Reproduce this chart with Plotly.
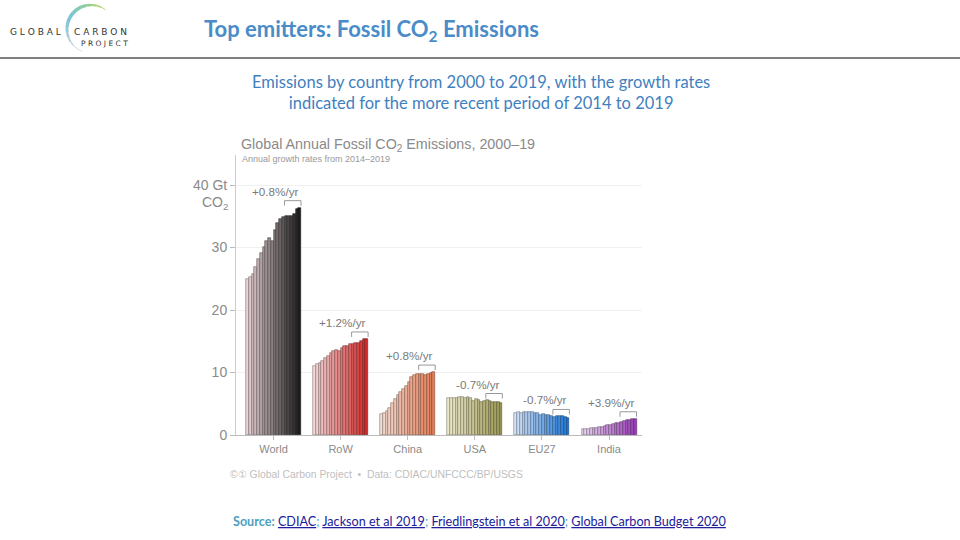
import numpy as np
import plotly.graph_objects as go

# ---------------- data ----------------
years = list(range(2000, 2020))
countries = ["World", "RoW", "China", "USA", "EU27", "India"]
world = [25.0, 25.3, 25.7, 26.9, 28.1, 29.1, 30.1, 31.0, 31.5, 31.1, 32.8, 34.0, 34.5, 34.9, 35.0, 35.0, 35.0, 35.3, 36.1, 36.4]
row = [11.1, 11.3, 11.5, 11.8, 12.3, 12.7, 13.1, 13.4, 13.6, 13.4, 13.9, 14.2, 14.3, 14.5, 14.6, 14.7, 14.8, 15.0, 15.3, 15.4]
china = [3.4, 3.5, 3.8, 4.4, 5.1, 5.8, 6.4, 6.9, 7.3, 7.8, 8.5, 9.3, 9.6, 9.8, 9.8, 9.7, 9.6, 9.7, 9.9, 10.1]
usa = [6.0, 5.9, 5.95, 6.0, 6.1, 6.1, 6.0, 6.1, 5.9, 5.5, 5.7, 5.55, 5.35, 5.5, 5.55, 5.4, 5.3, 5.25, 5.35, 5.2]
eu27 = [3.6, 3.65, 3.6, 3.7, 3.7, 3.65, 3.65, 3.6, 3.5, 3.2, 3.3, 3.2, 3.15, 3.05, 2.95, 3.0, 3.0, 3.0, 2.95, 2.8]
india = [0.98, 1.0, 1.03, 1.07, 1.12, 1.18, 1.25, 1.35, 1.46, 1.6, 1.68, 1.77, 1.9, 1.97, 2.15, 2.2, 2.33, 2.42, 2.6, 2.63]
growth_labels = ["+0.8%/yr", "+1.2%/yr", "+0.8%/yr", "-0.7%/yr", "-0.7%/yr", "+3.9%/yr"]
y_tickvals = [0, 10, 20, 30, 40]
y_ticktext = ["0", "10", "20", "30", "40 Gt"]
series = [world, row, china, usa, eu27, india]

# ---------------- styles ----------------
grad = [
    ((233, 211, 214), (30, 30, 30)),
    ((243, 217, 217), (212, 42, 42)),
    ((243, 221, 211), (229, 126, 87)),
    ((236, 233, 203), (158, 154, 85)),
    ((211, 227, 246), (31, 120, 216)),
    ((234, 215, 239), (154, 63, 184)),
]
W, H = 960, 540
VS = 0.985          # observed vertical compression of the rendered page
VOFF = 0.0
GROUP_PITCH = 24.4
period_start = years.index(2014)


def px_x(p):
    return p / W


def px_y(p):
    return 1 - ((p - VOFF) / VS) / H


def rgb(c):
    return "rgb(%d,%d,%d)" % tuple(int(round(v)) for v in c)


fig = go.Figure()
n = len(years)
for g, (name, vals) in enumerate(zip(countries, series)):
    c0, c1 = np.array(grad[g][0], float), np.array(grad[g][1], float)
    t = np.linspace(0, 1, n)
    cols = [c0 + (c1 - c0) * ti for ti in t]
    fill = [rgb(c) for c in cols]
    line = [rgb(c * 0.55) for c in cols]
    xs = [g * GROUP_PITCH + i for i in range(n)]
    fig.add_trace(go.Bar(x=xs, y=vals, width=1, name=name,
                         marker=dict(color=fill, line=dict(color=line, width=0.6)),
                         showlegend=False, hoverinfo="y"))
    # bracket over 2014-2019
    top = max(vals[period_start:]) + 1.1
    x0 = g * GROUP_PITCH + period_start - 0.5
    x1 = g * GROUP_PITCH + n - 1 + 0.5
    fig.add_shape(type="path", xref="x", yref="y",
                  path=f"M {x0} {top-0.8} L {x0} {top} L {x1} {top} L {x1} {top-0.8}",
                  line=dict(color="#999", width=1))
    fig.add_annotation(x=x1, y=top, xref="x", yref="y", text=growth_labels[g],
                       showarrow=False, xanchor="right", yanchor="bottom", yshift=1,
                       font=dict(family="Liberation Sans", size=11.7, color="#7a7a7a"))

# axes geometry (pixels of the reference)
ax_left, ax_right = 236, 642
ax_bottom, ax_top = 435, 155
px_per_gt = 6.25
bar_px = 2.75
xmin = -0.5 - (246 - ax_left) / bar_px
xmax = xmin + (ax_right - ax_left) / bar_px

fig.update_layout(
    width=W, height=H, autosize=False, margin=dict(l=0, r=0, t=0, b=0, pad=0),
    paper_bgcolor="white", plot_bgcolor="white", bargap=0,
    xaxis=dict(domain=[px_x(ax_left), px_x(ax_right)], range=[xmin, xmax],
               tickvals=[g * GROUP_PITCH + (n - 1) / 2 for g in range(len(countries))],
               ticktext=countries, ticks="outside", ticklen=4, tickcolor="#bbb",
               tickfont=dict(family="Liberation Sans", size=11, color="#8a8a8a"),
               showline=True, linecolor="#bbb", linewidth=1, showgrid=False,
               zeroline=False, fixedrange=True),
    yaxis=dict(domain=[px_y(ax_bottom), px_y(ax_top)],
               range=[0, (ax_bottom - ax_top) / px_per_gt],
               tickvals=y_tickvals, ticktext=y_ticktext, ticks="outside", ticklen=5,
               tickcolor="#bbb", tickfont=dict(family="Liberation Sans", size=14, color="#8a8a8a"),
               showline=True, linecolor="#ccc", linewidth=1, showgrid=True,
               gridcolor="#f0f0f0", zeroline=False, fixedrange=True),
)

# CO2 under the 40 Gt label
fig.add_annotation(x=px_x(230), y=40, xref="paper", yref="y", text="CO<sub>2</sub>",
                   showarrow=False, xanchor="right", yanchor="top", yshift=-7,
                   font=dict(family="Liberation Sans", size=14, color="#8a8a8a"))

# chart title + subtitle
fig.add_annotation(x=px_x(239), y=px_y(145), xref="paper", yref="paper",
                   text="Global Annual Fossil CO<sub>2</sub> Emissions, 2000–19",
                   showarrow=False, xanchor="left", yanchor="middle",
                   font=dict(family="Liberation Sans", size=14.3, color="#8a8a8a"))
fig.add_annotation(x=px_x(240), y=px_y(159), xref="paper", yref="paper",
                   text="Annual growth rates from 2014–2019",
                   showarrow=False, xanchor="left", yanchor="middle",
                   font=dict(family="Liberation Sans", size=9, color="#999"))
# footer credit
fig.add_annotation(x=px_x(228), y=px_y(474), xref="paper", yref="paper",
                   text="©① Global Carbon Project  •  Data: CDIAC/UNFCCC/BP/USGS",
                   showarrow=False, xanchor="left", yanchor="middle",
                   font=dict(family="Liberation Sans", size=10.4, color="#c0c0c0"))

# slide title
fig.add_annotation(x=px_x(202), y=px_y(30), xref="paper", yref="paper",
                   text="<b>Top emitters: Fossil CO<sub>2</sub> Emissions</b>",
                   showarrow=False, xanchor="left", yanchor="middle",
                   font=dict(family="Lato", size=22, color="#4a8bc9"))
fig.add_shape(type="line", xref="paper", yref="paper", x0=0, x1=1,
              y0=px_y(58), y1=px_y(58), line=dict(color="#555", width=1.5))
# slide subtitle
fig.add_annotation(x=px_x(481), y=px_y(92), xref="paper", yref="paper",
                   text="Emissions by country from 2000 to 2019, with the growth rates<br>indicated for the more recent period of 2014 to 2019",
                   showarrow=False, xanchor="center", yanchor="middle", align="center",
                   font=dict(family="Lato", size=16.5, color="#3f80bf"))

# source line
u = "<span style='text-decoration:underline;color:#20209a'>%s</span>"
src = ("<b>Source:</b> " + u % "CDIAC" + "; " + u % "Jackson et al 2019" + "; "
       + u % "Friedlingstein et al 2020" + "; " + u % "Global Carbon Budget 2020")
fig.add_annotation(x=px_x(231), y=px_y(521), xref="paper", yref="paper", text=src,
                   showarrow=False, xanchor="left", yanchor="middle",
                   font=dict(family="Lato", size=12.6, color="#4d9fc0"))

# logo: text
fig.add_annotation(x=px_x(8), y=px_y(32), xref="paper", yref="paper",
                   text="G L O B A L", showarrow=False, xanchor="left", yanchor="middle",
                   font=dict(family="DejaVu Sans", size=9, color="#333"))
fig.add_annotation(x=px_x(72), y=px_y(32), xref="paper", yref="paper",
                   text="C A R B O N", showarrow=False, xanchor="left", yanchor="middle",
                   font=dict(family="DejaVu Sans", size=9, color="#333"))
fig.add_annotation(x=px_x(79), y=px_y(43), xref="paper", yref="paper",
                   text="P R O J E C T", showarrow=False, xanchor="left", yanchor="middle",
                   font=dict(family="DejaVu Sans", size=7.5, color="#333"))
# logo: arc
cx, cy, r = 91, 29, 24
a0, a1 = 53, 248
segs = 16
arc_cols = [(190, 215, 100), (140, 205, 160), (120, 195, 215), (170, 205, 215), (215, 225, 225)]
for s in range(segs):
    t0 = a0 + (a1 - a0) * s / segs
    t1 = a0 + (a1 - a0) * (s + 1.05) / segs
    f = s / (segs - 1)
    k = f * (len(arc_cols) - 1)
    i = min(int(k), len(arc_cols) - 2)
    fr = k - i
    col = np.array(arc_cols[i]) * (1 - fr) + np.array(arc_cols[i + 1]) * fr
    width = 1 + 2.6 * np.sin(np.pi * min(1, max(0, (f * 1.1))))
    pts = []
    for a in np.linspace(t0, t1, 4):
        xp = cx + r * np.cos(np.radians(a))
        yp = cy - r * np.sin(np.radians(a))
        pts.append((px_x(xp), px_y(yp)))
    path = "M " + " L ".join(f"{p[0]:.5f} {p[1]:.5f}" for p in pts)
    fig.add_shape(type="path", xref="paper", yref="paper", path=path,
                  line=dict(color=rgb(col), width=width), layer="below")

fig.write_html("out.html",
               config={"displayModeBar": False, "responsive": False},
               post_script="document.body.style.margin='0px';document.body.style.overflow='hidden';")
